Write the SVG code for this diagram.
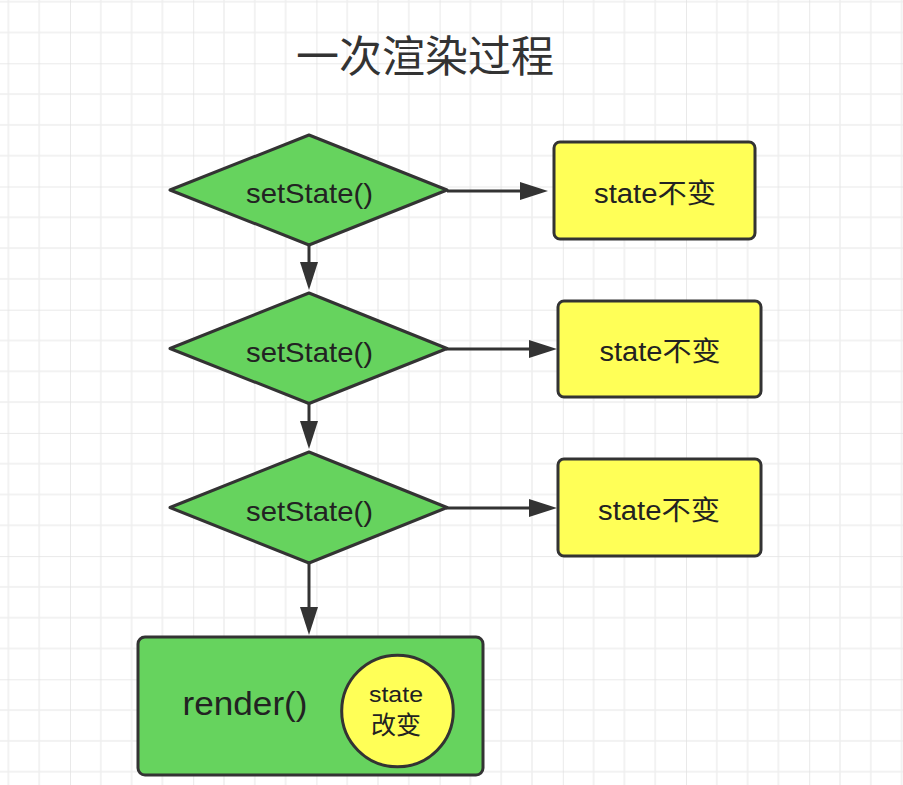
<svg xmlns="http://www.w3.org/2000/svg" width="903" height="785" viewBox="0 0 903 785">
<style>
.t{font-family:"Liberation Sans","Noto Sans CJK SC",sans-serif;fill:#222;text-anchor:middle}
.title{font-family:"Noto Sans CJK SC","Noto Sans CJK TC",sans-serif;fill:#333;text-anchor:middle;font-size:43px}
.dia{fill:#66d35e;stroke:#333;stroke-width:3;stroke-linejoin:round}
.box{fill:#ffff57;stroke:#333;stroke-width:3}
.green{fill:#66d35e;stroke:#333;stroke-width:3}
.edge{stroke:#333;stroke-width:3;fill:none;marker-end:url(#arr)}
</style>
<defs>
<pattern id="grid" patternUnits="userSpaceOnUse" x="-53.2" y="-59.9" width="123.2" height="123.2">
<path d="M30.8 0V123.2M61.6 0V123.2M92.4 0V123.2M0 30.8H123.2M0 61.6H123.2M0 92.4H123.2" stroke="#eeeeee" stroke-width="1.5" fill="none"/>
<path d="M0 0V123.2M0 0H123.2" stroke="#e2e2e2" stroke-width="1.5" fill="none"/>
</pattern>
<marker id="arr" markerUnits="userSpaceOnUse" markerWidth="28" markerHeight="18" refX="22" refY="9" orient="auto">
<path d="M0 0L28 9L0 18Z" fill="#333"/>
</marker>
</defs>
<rect width="903" height="785" fill="#fff"/>
<rect width="903" height="785" fill="url(#grid)"/>
<text class="title" x="425" y="72">一次渲染过程</text>
<g id="connectors">
<path class="edge" d="M447 191H542"/>
<path class="edge" d="M446 349H551"/>
<path class="edge" d="M446 508H551"/>
<path class="edge" d="M309 245V284"/>
<path class="edge" d="M309 403V443"/>
<path class="edge" d="M309 563V629"/>
</g>
<g id="d1">
<polygon class="dia" points="309,135 447,190 309,245 170,190"/>
<text class="t" x="309.5" y="203" font-size="28" textLength="127" lengthAdjust="spacingAndGlyphs">setState()</text>
</g>
<g id="d2">
<polygon class="dia" points="309,293 447,348.5 309,403.5 170,348.5"/>
<text class="t" x="309.5" y="362" font-size="28" textLength="127" lengthAdjust="spacingAndGlyphs">setState()</text>
</g>
<g id="d3">
<polygon class="dia" points="309,452 447,507.5 309,563 170,507.5"/>
<text class="t" x="309.5" y="521" font-size="28" textLength="127" lengthAdjust="spacingAndGlyphs">setState()</text>
</g>
<g id="b1">
<rect class="box" x="554" y="142" width="201" height="97" rx="6"/>
<text class="t" x="655" y="203" font-size="27" textLength="122" lengthAdjust="spacingAndGlyphs">state不变</text>
</g>
<g id="b2">
<rect class="box" x="558" y="301" width="203" height="96" rx="6"/>
<text class="t" x="660" y="361" font-size="27" textLength="121" lengthAdjust="spacingAndGlyphs">state不变</text>
</g>
<g id="b3">
<rect class="box" x="558" y="459" width="203" height="97" rx="6"/>
<text class="t" x="659" y="520" font-size="27" textLength="122" lengthAdjust="spacingAndGlyphs">state不变</text>
</g>
<g id="render">
<rect class="green" x="138" y="637" width="345" height="138" rx="7"/>
<text class="t" x="245" y="715" font-size="34" textLength="125" lengthAdjust="spacingAndGlyphs">render()</text>
</g>
<g id="circle">
<circle cx="397.5" cy="711" r="55.8" fill="#ffff57" stroke="#333" stroke-width="3"/>
<text class="t" x="396" y="702" font-size="22" textLength="54" lengthAdjust="spacingAndGlyphs">state</text>
<text class="t" x="396" y="734" font-size="25" textLength="50" lengthAdjust="spacingAndGlyphs">改变</text>
</g>
</svg>
